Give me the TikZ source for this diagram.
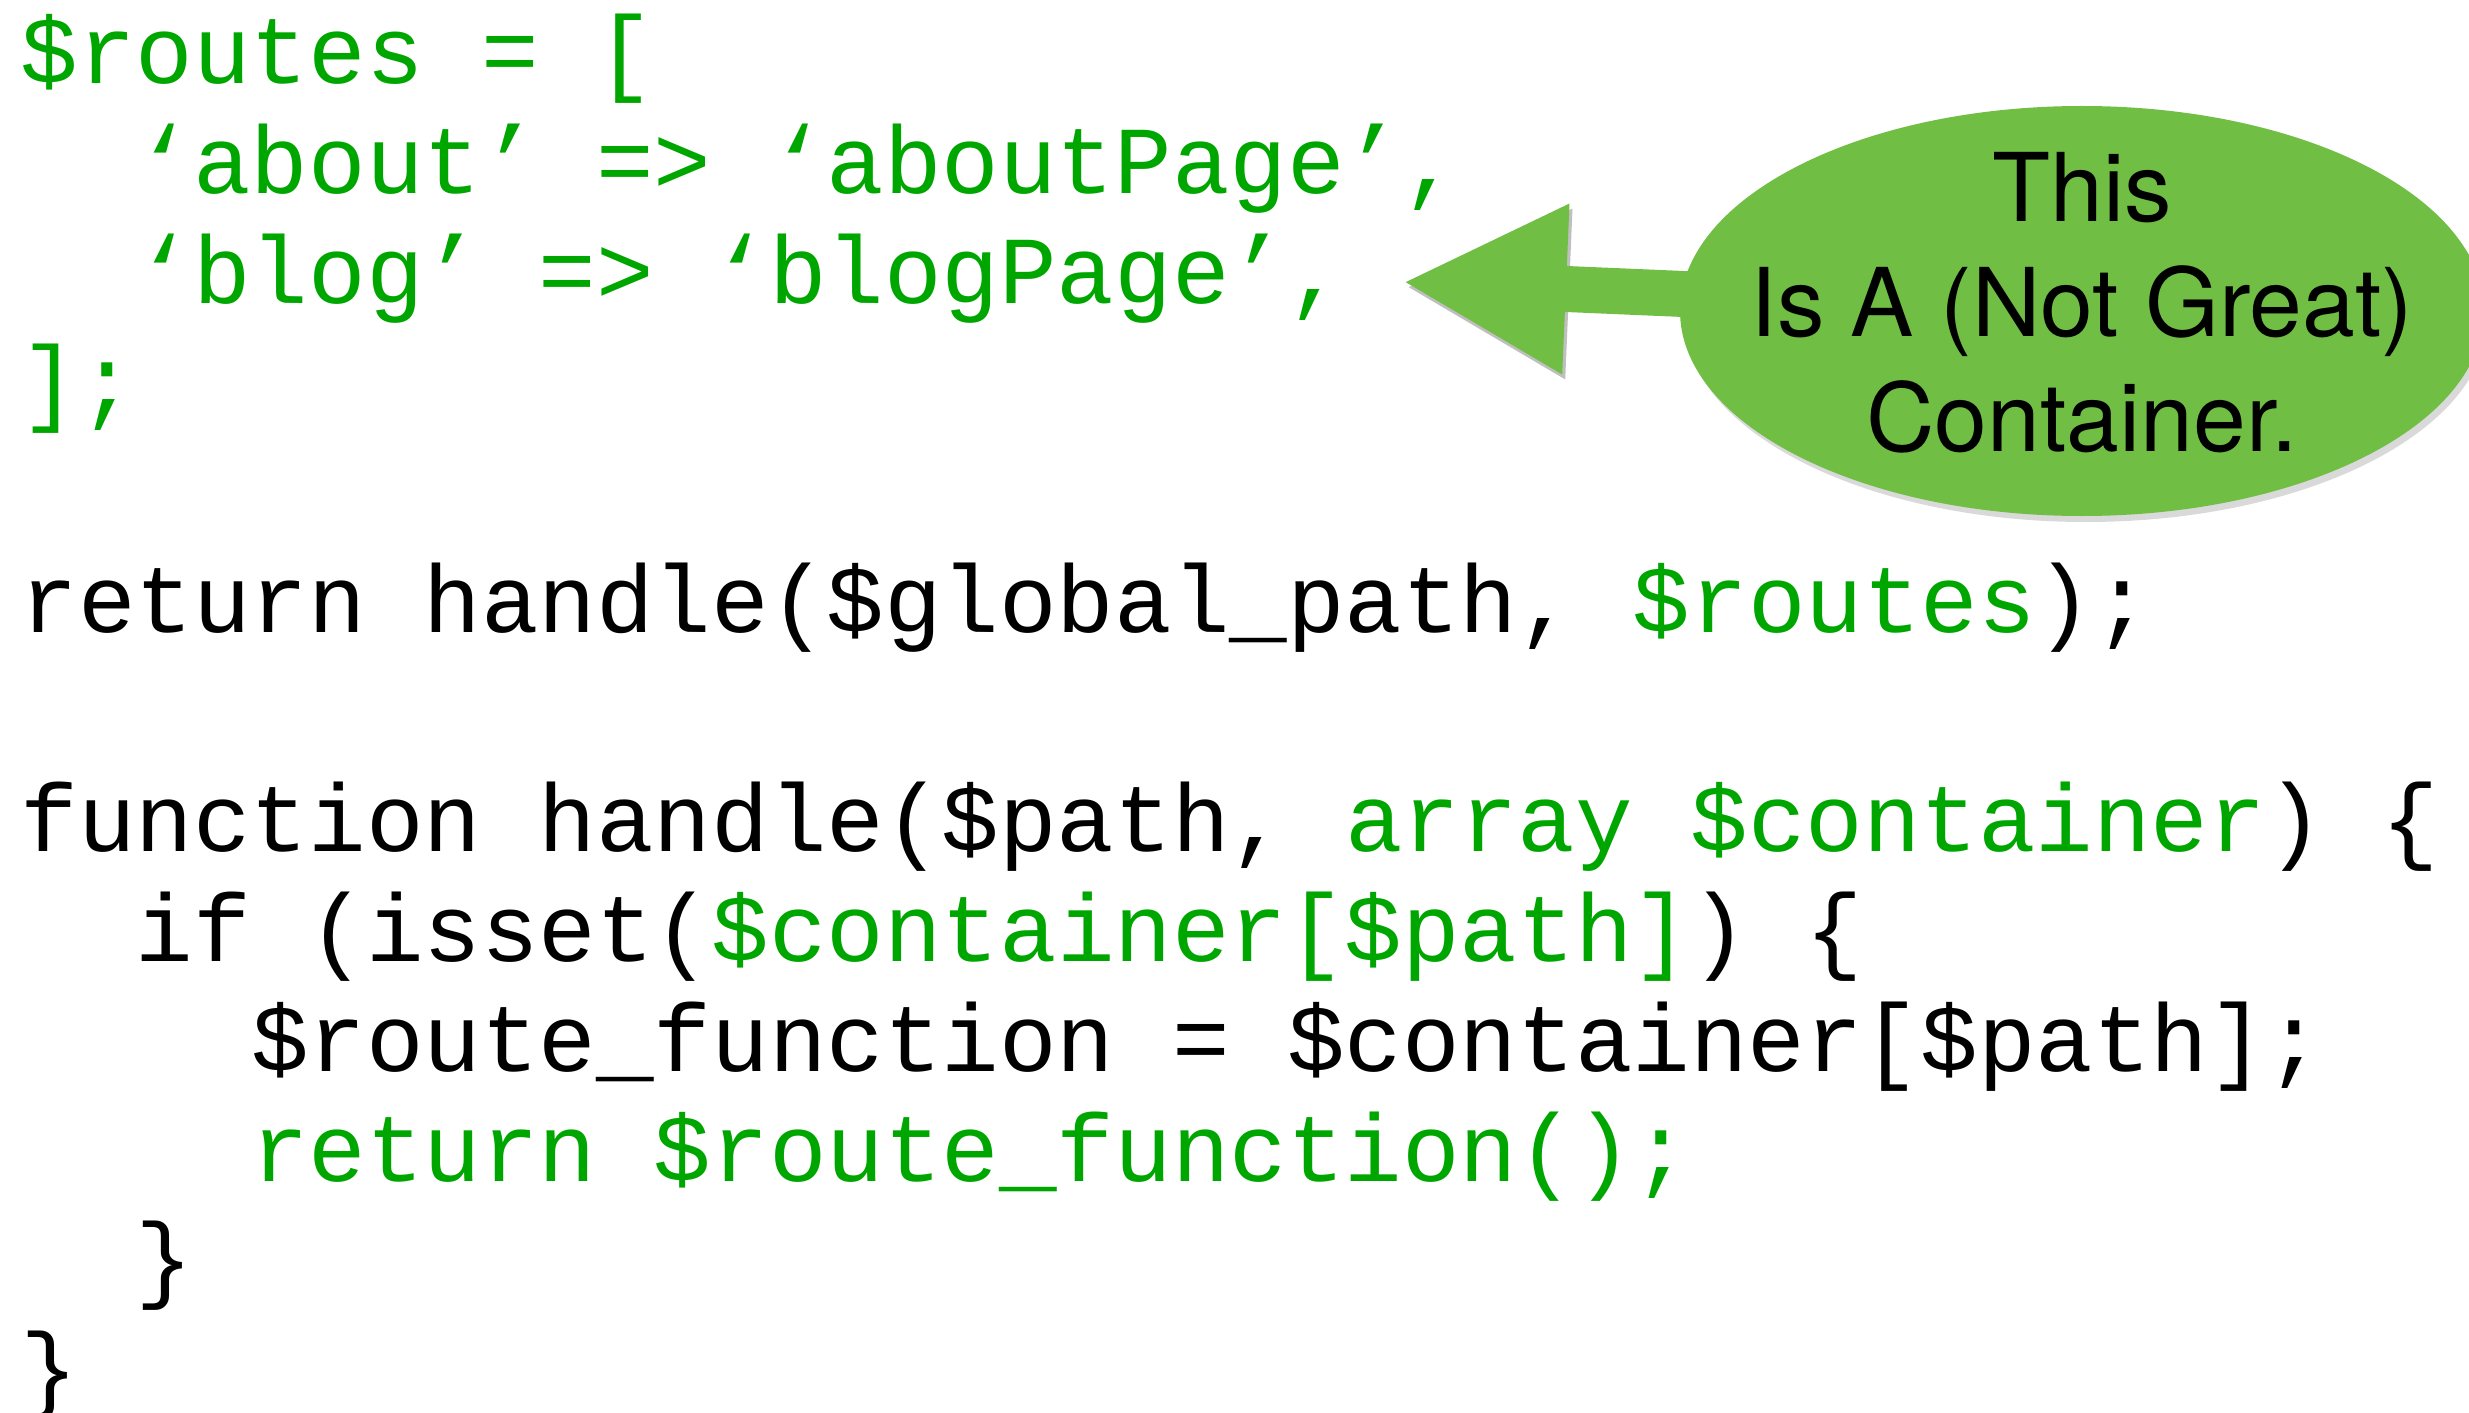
\documentclass[tikz,border=0pt]{standalone}
\usepackage{fontspec}
\setmonofont{Liberation Mono}
\setsansfont{TeX Gyre Heros}
\usetikzlibrary{shapes.geometric}
\usetikzlibrary{arrows.meta}
\usetikzlibrary{shadows}
\usetikzlibrary{backgrounds}

\definecolor{codegreen}{RGB}{0,166,0}
\definecolor{bubblegreen}{RGB}{112,190,68}

\begin{document}
\begin{tikzpicture} [
    code/.style = {anchor = base west, inner sep = 0pt, font = \fontsize{27.3pt}{31pt}\selectfont\ttfamily},
    bubble/.style = {ellipse, fill = bubblegreen, minimum width = 8.04cm, minimum height = 4.1cm, inner sep = 0pt,
        drop shadow = {shadow xshift = 0.04cm, shadow yshift = -0.06cm, opacity = 0.3}},
    bubbletext/.style = {align = center, inner sep = 0pt, font = \fontsize{27pt}{32.7pt}\selectfont\sffamily},
    callout/.style = {line width = 0.46cm, draw = bubblegreen, -{Triangle[length = 1.64cm, width = 1.58cm]},
        preaction = {draw = black!25, transform canvas = {xshift = 0.03cm, yshift = -0.05cm}}}
]
\useasboundingbox (0, 0) rectangle (24.69, -14.12);

% routes array
\node (routes) at (0.2, -0.84) [code, codegreen] {\$routes = [};
\node (about) at (1.351, -1.937) [code, codegreen] {‘about’ => ‘aboutPage’,};
\node (blog) at (1.351, -3.034) [code, codegreen] {‘blog’ => ‘blogPage’,};
\node (close) at (0.2, -4.131) [code, codegreen] {];};

% call
\node (call) at (0.2, -6.325) [code] {return handle(\$global\_path, \textcolor{codegreen}{\$routes});};

% handle function
\node (fn) at (0.2, -8.519) [code] {function handle(\$path, \textcolor{codegreen}{array \$container}) \{};
\node (if) at (1.351, -9.616) [code] {if (isset(\textcolor{codegreen}{\$container[\$path]}) \{};
\node (assign) at (2.503, -10.713) [code] {\$route\_function = \$container[\$path];};
\node (ret) at (2.503, -11.81) [code, codegreen] {return \$route\_function();};
\node (endif) at (1.351, -12.907) [code] {\}};
\node (endfn) at (0.2, -14.004) [code] {\}};

% bubble and arrow
\node (bubble) at (20.82, -3.11) [bubble] {};
\node (label) at ([yshift = 0.08cm] bubble.center) [bubbletext] {This\\Is A (Not Great)\\Container.};
\coordinate (tip) at (14.02, -2.82);
\begin{scope}[on background layer]
\draw [callout] (bubble.center) -- (tip);
\end{scope}

\end{tikzpicture}
\end{document}
